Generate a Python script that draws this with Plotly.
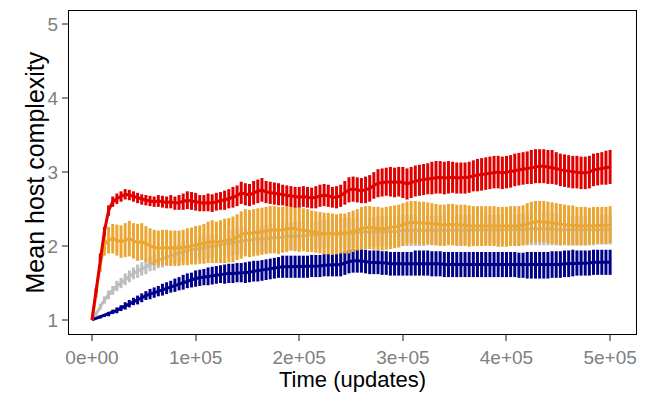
import plotly.graph_objects as go

# time points (updates), sampled every 4000 updates
time_updates = list(range(0, 500001, 4000))

red_mean = [1.00, 1.40, 1.85, 2.20, 2.48, 2.60, 2.64, 2.67, 2.70, 2.69,
            2.67, 2.65, 2.63, 2.62, 2.61, 2.60, 2.61, 2.60, 2.59, 2.60,
            2.58, 2.59, 2.60, 2.62, 2.61, 2.60, 2.58, 2.58, 2.59, 2.58,
            2.60, 2.61, 2.62, 2.64, 2.66, 2.68, 2.72, 2.70, 2.69, 2.72,
            2.74, 2.76, 2.73, 2.72, 2.71, 2.70, 2.69, 2.68, 2.67, 2.66,
            2.66, 2.67, 2.66, 2.65, 2.66, 2.68, 2.69, 2.68, 2.66, 2.66,
            2.68, 2.72, 2.76, 2.77, 2.76, 2.75, 2.76, 2.78, 2.82, 2.85,
            2.86, 2.87, 2.87, 2.86, 2.87, 2.86, 2.84, 2.86, 2.88, 2.89,
            2.90, 2.91, 2.92, 2.93, 2.93, 2.92, 2.93, 2.93, 2.92, 2.92,
            2.92, 2.93, 2.95, 2.96, 2.97, 2.98, 2.99, 3.00, 3.00, 2.99,
            3.00, 3.01, 3.03, 3.04, 3.05, 3.06, 3.07, 3.08, 3.08, 3.08,
            3.07, 3.07, 3.05, 3.03, 3.02, 3.01, 3.00, 3.00, 2.99, 2.99,
            3.00, 3.03, 3.04, 3.05, 3.06, 3.07]
red_err = [0.00, 0.03, 0.05, 0.06, 0.07, 0.07, 0.07, 0.07, 0.07, 0.07,
           0.07, 0.07, 0.07, 0.07, 0.07, 0.07, 0.08, 0.08, 0.08, 0.09,
           0.09, 0.10, 0.11, 0.12, 0.12, 0.12, 0.11, 0.11, 0.12, 0.12,
           0.12, 0.12, 0.13, 0.13, 0.14, 0.14, 0.15, 0.15, 0.15, 0.16,
           0.16, 0.16, 0.15, 0.15, 0.15, 0.15, 0.14, 0.14, 0.14, 0.14,
           0.14, 0.14, 0.14, 0.14, 0.15, 0.15, 0.15, 0.15, 0.14, 0.15,
           0.15, 0.16, 0.17, 0.17, 0.17, 0.17, 0.18, 0.18, 0.18, 0.19,
           0.19, 0.19, 0.20, 0.20, 0.20, 0.21, 0.21, 0.21, 0.21, 0.21,
           0.21, 0.21, 0.22, 0.22, 0.22, 0.22, 0.22, 0.21, 0.21, 0.21,
           0.21, 0.21, 0.21, 0.22, 0.22, 0.22, 0.22, 0.22, 0.22, 0.22,
           0.22, 0.22, 0.22, 0.22, 0.22, 0.22, 0.23, 0.23, 0.23, 0.23,
           0.23, 0.23, 0.22, 0.22, 0.22, 0.22, 0.22, 0.22, 0.22, 0.22,
           0.22, 0.22, 0.22, 0.22, 0.23, 0.23]

orange_mean = [1.00, 1.35, 1.75, 2.02, 2.08, 2.10, 2.08, 2.06, 2.08, 2.10,
               2.07, 2.05, 2.06, 2.03, 2.00, 1.98, 1.97, 1.98, 1.98, 1.97,
               1.97, 1.97, 1.98, 1.99, 2.00, 2.01, 2.02, 2.03, 2.05, 2.06,
               2.05, 2.06, 2.07, 2.08, 2.09, 2.12, 2.15, 2.18, 2.17, 2.18,
               2.19, 2.20, 2.21, 2.22, 2.22, 2.21, 2.22, 2.23, 2.24, 2.23,
               2.22, 2.22, 2.21, 2.20, 2.19, 2.18, 2.17, 2.17, 2.16, 2.16,
               2.17, 2.17, 2.18, 2.20, 2.22, 2.24, 2.25, 2.25, 2.24, 2.24,
               2.23, 2.24, 2.25, 2.26, 2.27, 2.29, 2.31, 2.32, 2.32, 2.31,
               2.31, 2.31, 2.30, 2.29, 2.28, 2.28, 2.29, 2.29, 2.28, 2.28,
               2.28, 2.27, 2.27, 2.27, 2.27, 2.27, 2.27, 2.27, 2.26, 2.26,
               2.26, 2.27, 2.27, 2.27, 2.28, 2.30, 2.32, 2.33, 2.33, 2.33,
               2.32, 2.31, 2.30, 2.29, 2.29, 2.28, 2.28, 2.27, 2.27, 2.27,
               2.27, 2.28, 2.28, 2.28, 2.28, 2.29]
orange_err = [0.00, 0.05, 0.10, 0.15, 0.18, 0.20, 0.21, 0.22, 0.23, 0.24,
              0.24, 0.25, 0.25, 0.24, 0.24, 0.24, 0.24, 0.24, 0.24, 0.24,
              0.24, 0.24, 0.24, 0.25, 0.25, 0.26, 0.26, 0.27, 0.28, 0.29,
              0.28, 0.29, 0.30, 0.30, 0.31, 0.31, 0.32, 0.32, 0.32, 0.32,
              0.32, 0.32, 0.32, 0.32, 0.32, 0.32, 0.31, 0.31, 0.30, 0.30,
              0.30, 0.29, 0.29, 0.28, 0.28, 0.28, 0.28, 0.28, 0.28, 0.27,
              0.27, 0.27, 0.28, 0.28, 0.28, 0.29, 0.29, 0.29, 0.29, 0.29,
              0.29, 0.29, 0.29, 0.29, 0.29, 0.29, 0.29, 0.29, 0.29, 0.29,
              0.29, 0.28, 0.28, 0.28, 0.28, 0.28, 0.28, 0.28, 0.28, 0.28,
              0.28, 0.28, 0.27, 0.27, 0.27, 0.27, 0.27, 0.27, 0.27, 0.27,
              0.27, 0.27, 0.27, 0.27, 0.27, 0.28, 0.28, 0.28, 0.28, 0.28,
              0.28, 0.28, 0.28, 0.28, 0.27, 0.27, 0.27, 0.26, 0.26, 0.26,
              0.25, 0.25, 0.25, 0.25, 0.25, 0.25]

grey_mean = [1.00, 1.08, 1.18, 1.27, 1.34, 1.40, 1.46, 1.50, 1.55, 1.59,
             1.63, 1.66, 1.69, 1.72, 1.76, 1.78, 1.81, 1.83, 1.85, 1.87,
             1.89, 1.91, 1.93, 1.94, 1.95, 1.96, 1.97, 1.98, 1.99, 2.00,
             2.01, 2.02, 2.03, 2.04, 2.05, 2.06, 2.07, 2.08, 2.08, 2.09,
             2.09, 2.10, 2.10, 2.11, 2.11, 2.12, 2.12, 2.13, 2.13, 2.14,
             2.14, 2.14, 2.15, 2.15, 2.15, 2.16, 2.16, 2.17, 2.17, 2.17,
             2.17, 2.18, 2.18, 2.18, 2.18, 2.19, 2.19, 2.19, 2.19, 2.20,
             2.20, 2.20, 2.20, 2.20, 2.20, 2.21, 2.21, 2.21, 2.21, 2.21,
             2.21, 2.21, 2.21, 2.21, 2.22, 2.22, 2.22, 2.22, 2.22, 2.22,
             2.22, 2.22, 2.22, 2.22, 2.22, 2.22, 2.22, 2.22, 2.22, 2.22,
             2.22, 2.22, 2.22, 2.22, 2.22, 2.23, 2.23, 2.24, 2.24, 2.24,
             2.23, 2.23, 2.22, 2.22, 2.22, 2.21, 2.21, 2.21, 2.21, 2.21,
             2.21, 2.21, 2.22, 2.22, 2.22, 2.22]
grey_err = [0.00, 0.03, 0.04, 0.05, 0.06, 0.06, 0.07, 0.07, 0.08, 0.08,
            0.08, 0.09, 0.09, 0.10, 0.10, 0.11, 0.11, 0.12, 0.12, 0.13,
            0.13, 0.13, 0.14, 0.14, 0.15, 0.15, 0.15, 0.16, 0.16, 0.16,
            0.16, 0.17, 0.17, 0.17, 0.17, 0.18, 0.18, 0.18, 0.18, 0.18,
            0.18, 0.18, 0.18, 0.19, 0.19, 0.19, 0.19, 0.19, 0.19, 0.19,
            0.19, 0.19, 0.19, 0.19, 0.19, 0.19, 0.19, 0.19, 0.19, 0.19,
            0.20, 0.20, 0.20, 0.20, 0.20, 0.20, 0.20, 0.20, 0.20, 0.20,
            0.20, 0.20, 0.20, 0.20, 0.20, 0.21, 0.21, 0.21, 0.21, 0.21,
            0.21, 0.20, 0.20, 0.20, 0.20, 0.20, 0.20, 0.20, 0.20, 0.20,
            0.20, 0.20, 0.20, 0.20, 0.20, 0.20, 0.20, 0.20, 0.20, 0.20,
            0.20, 0.20, 0.20, 0.21, 0.21, 0.22, 0.22, 0.23, 0.23, 0.23,
            0.22, 0.22, 0.21, 0.21, 0.21, 0.20, 0.20, 0.20, 0.20, 0.20,
            0.20, 0.20, 0.20, 0.20, 0.20, 0.20]

navy_mean = [1.00, 1.02, 1.04, 1.06, 1.08, 1.11, 1.13, 1.16, 1.19, 1.22,
             1.25, 1.27, 1.30, 1.33, 1.35, 1.37, 1.39, 1.41, 1.43, 1.45,
             1.47, 1.49, 1.51, 1.53, 1.54, 1.56, 1.57, 1.58, 1.59, 1.60,
             1.61, 1.62, 1.62, 1.63, 1.63, 1.64, 1.64, 1.64, 1.65, 1.66,
             1.66, 1.67, 1.68, 1.69, 1.70, 1.71, 1.72, 1.72, 1.72, 1.72,
             1.72, 1.72, 1.72, 1.73, 1.73, 1.73, 1.74, 1.74, 1.74, 1.74,
             1.75, 1.77, 1.79, 1.80, 1.80, 1.80, 1.79, 1.78, 1.78, 1.78,
             1.77, 1.77, 1.76, 1.76, 1.76, 1.76, 1.76, 1.76, 1.77, 1.77,
             1.77, 1.77, 1.76, 1.76, 1.76, 1.75, 1.75, 1.75, 1.75, 1.75,
             1.75, 1.75, 1.75, 1.75, 1.75, 1.75, 1.75, 1.75, 1.75, 1.75,
             1.75, 1.75, 1.75, 1.74, 1.74, 1.74, 1.74, 1.74, 1.74, 1.74,
             1.74, 1.75, 1.75, 1.75, 1.76, 1.76, 1.77, 1.77, 1.77, 1.77,
             1.77, 1.78, 1.78, 1.78, 1.78, 1.78]
navy_err = [0.00, 0.01, 0.02, 0.02, 0.03, 0.03, 0.04, 0.04, 0.05, 0.05,
            0.05, 0.06, 0.06, 0.06, 0.07, 0.07, 0.07, 0.08, 0.08, 0.08,
            0.09, 0.09, 0.10, 0.10, 0.10, 0.11, 0.11, 0.11, 0.12, 0.12,
            0.12, 0.12, 0.13, 0.13, 0.13, 0.13, 0.13, 0.14, 0.14, 0.14,
            0.14, 0.14, 0.14, 0.14, 0.14, 0.14, 0.15, 0.15, 0.15, 0.15,
            0.15, 0.15, 0.15, 0.15, 0.15, 0.15, 0.15, 0.15, 0.15, 0.15,
            0.16, 0.16, 0.16, 0.16, 0.16, 0.16, 0.16, 0.16, 0.16, 0.16,
            0.16, 0.16, 0.16, 0.16, 0.16, 0.16, 0.16, 0.16, 0.17, 0.17,
            0.17, 0.17, 0.17, 0.17, 0.17, 0.17, 0.17, 0.17, 0.17, 0.17,
            0.17, 0.17, 0.17, 0.17, 0.17, 0.17, 0.17, 0.17, 0.17, 0.17,
            0.17, 0.17, 0.17, 0.17, 0.17, 0.18, 0.18, 0.18, 0.18, 0.18,
            0.18, 0.18, 0.18, 0.18, 0.18, 0.18, 0.18, 0.17, 0.17, 0.17,
            0.17, 0.17, 0.17, 0.17, 0.17, 0.17]

x_tick_vals = [0, 100000, 200000, 300000, 400000, 500000]
x_tick_text = ["0e+00", "1e+05", "2e+05", "3e+05", "4e+05", "5e+05"]
y_tick_vals = [1, 2, 3, 4, 5]

series = [
    ("grey", grey_mean, grey_err, "#BEBEBE"),
    ("navy", navy_mean, navy_err, "#00008B"),
    ("orange", orange_mean, orange_err, "#EBA632"),
    ("red", red_mean, red_err, "#E00000"),
]

FONT = "Liberation Sans, Arial, sans-serif"

fig = go.Figure()
for name, mean, err, color in series:
    fig.add_trace(go.Scatter(
        x=time_updates, y=mean, mode="lines", name=name,
        line=dict(color=color, width=3),
        error_y=dict(type="data", array=err, visible=True, color=color,
                     thickness=3, width=0),
        showlegend=False,
    ))

axis_common = dict(
    showline=True, linecolor="black", linewidth=1.2, mirror=True,
    ticks="outside", ticklen=6, tickwidth=2.2, tickcolor="#8C8C8C",
    tickfont=dict(family=FONT, size=19, color="#808080"),
    showgrid=False, zeroline=False, automargin=False,
)

fig.update_layout(
    width=651, height=393,
    margin=dict(l=69, r=15, t=11, b=59),
    paper_bgcolor="white", plot_bgcolor="white",
    xaxis=dict(range=[-22200, 525000], tickvals=x_tick_vals, ticktext=x_tick_text,
               **axis_common),
    yaxis=dict(range=[0.81, 5.18], tickvals=y_tick_vals, **axis_common),
    annotations=[
        dict(text="Time (updates)", xref="paper", yref="paper",
             x=0.5, y=-0.142, xanchor="center", yanchor="middle", showarrow=False,
             font=dict(family=FONT, size=22, color="black")),
        dict(text="Mean host complexity", xref="paper", yref="paper",
             x=-0.06, y=0.5, xanchor="center", yanchor="middle", showarrow=False,
             textangle=-90, font=dict(family=FONT, size=25, color="black")),
    ],
)

fig.write_html("out.html", config={"displayModeBar": False},
               post_script="document.body.style.margin='0';")
